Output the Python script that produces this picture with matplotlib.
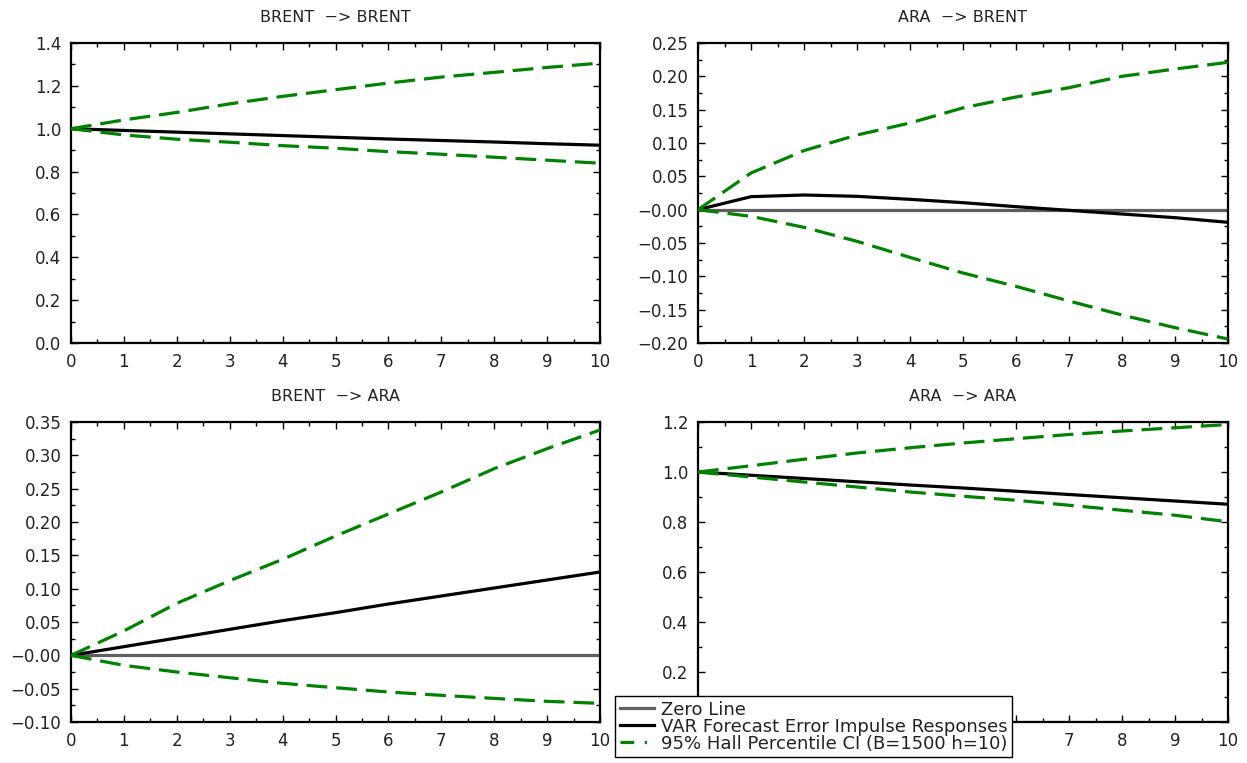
import numpy as np
import matplotlib
matplotlib.use('Agg')  # no display
import matplotlib.pyplot as plt
from matplotlib.lines import Line2D
from matplotlib.ticker import MultipleLocator, FuncFormatter

plt.rcParams['font.family'] = ['DejaVu Sans']

# horizon (periods after shock)
horizon = np.arange(11)

# BRENT -> BRENT
bb_irf = [1.0, 0.992, 0.984, 0.976, 0.968, 0.960, 0.952, 0.945, 0.938, 0.930, 0.923]
bb_upper = [1.0, 1.041, 1.076, 1.116, 1.151, 1.182, 1.213, 1.241, 1.263, 1.286, 1.306]
bb_lower = [1.0, 0.971, 0.951, 0.937, 0.921, 0.909, 0.893, 0.881, 0.867, 0.853, 0.839]

# ARA -> BRENT
ab_irf = [0.0, 0.0195, 0.022, 0.020, 0.0155, 0.0105, 0.0045, -0.001, -0.0065, -0.012, -0.019]
ab_upper = [0.0, 0.055, 0.0886, 0.112, 0.130, 0.1527, 0.169, 0.183, 0.200, 0.211, 0.221]
ab_lower = [0.0, -0.010, -0.0265, -0.0475, -0.0716, -0.095, -0.115, -0.137, -0.158, -0.177, -0.194]

# BRENT -> ARA
ba_irf = [0.0, 0.013, 0.026, 0.039, 0.052, 0.064, 0.077, 0.089, 0.101, 0.113, 0.125]
ba_upper = [0.0, 0.0366, 0.078, 0.112, 0.144, 0.179, 0.212, 0.245, 0.280, 0.310, 0.338]
ba_lower = [0.0, -0.015, -0.025, -0.0336, -0.042, -0.0486, -0.055, -0.060, -0.0646, -0.069, -0.072]

# ARA -> ARA
aa_irf = [1.0, 0.987, 0.974, 0.961, 0.948, 0.936, 0.923, 0.910, 0.897, 0.884, 0.871]
aa_upper = [1.0, 1.025, 1.051, 1.076, 1.097, 1.116, 1.133, 1.150, 1.164, 1.177, 1.190]
aa_lower = [1.0, 0.980, 0.960, 0.940, 0.920, 0.903, 0.887, 0.867, 0.847, 0.827, 0.801]

titles = ['BRENT  \u2212> BRENT', 'ARA  \u2212> BRENT', 'BRENT  \u2212> ARA', 'ARA  \u2212> ARA']
irfs = [bb_irf, ab_irf, ba_irf, aa_irf]
uppers = [bb_upper, ab_upper, ba_upper, aa_upper]
lowers = [bb_lower, ab_lower, ba_lower, aa_lower]
ylims = [(0.0, 1.4), (-0.20, 0.25), (-0.10, 0.35), (0.0, 1.2)]
ysteps = [0.2, 0.05, 0.05, 0.2]
ydecimals = [1, 2, 2, 1]
# tick labels covered by the legend in the last panel
hidden_x = [[], [], [], [0, 1, 2, 3, 4, 5, 6]]
hidden_y = [[], [], [], [0.0]]

legend_labels = ['Zero Line', 'VAR Forecast Error Impulse Responses',
                 '95% Hall Percentile CI (B=1500 h=10)']

W, H = 1247, 763
# axes boxes in pixels: left, top, right, bottom
boxes = [(71, 43, 600, 343), (698, 43, 1228, 343),
         (71, 422, 600, 722), (698, 422, 1228, 722)]

GREEN = '#008000'
GRAY = '#5f5f5f'
TXT = '#222222'


def y_fmt(d, hide):
    def f(v, pos):
        if any(abs(v - h) < 1e-9 for h in hide):
            return ''
        if d == 2 and abs(v) < 1e-9:
            return '\u22120.00'
        return f'{v:.{d}f}'.replace('-', '\u2212')
    return FuncFormatter(f)


def x_fmt(hide):
    def f(v, pos):
        if any(abs(v - h) < 1e-9 for h in hide):
            return ''
        return f'{v:.0f}'
    return FuncFormatter(f)


fig = plt.figure(figsize=(W / 100, H / 100), dpi=100)

for i in range(4):
    l, t, r, b = boxes[i]
    ax = fig.add_axes([l / W, 1 - b / H, (r - l) / W, (b - t) / H])
    ax.plot(horizon, np.zeros(len(horizon)), color=GRAY, lw=2.3, solid_capstyle='butt', zorder=2)
    ax.plot(horizon, irfs[i], color='black', lw=2.3, zorder=3)
    ax.plot(horizon, uppers[i], color=GREEN, lw=2.3, dashes=(6.5, 2.8), zorder=4)
    ax.plot(horizon, lowers[i], color=GREEN, lw=2.3, dashes=(6.5, 2.8), zorder=4)

    ax.set_xlim(0, 10)
    ax.set_ylim(*ylims[i])
    ax.xaxis.set_major_locator(MultipleLocator(1))
    ax.xaxis.set_minor_locator(MultipleLocator(0.5))
    ax.yaxis.set_major_locator(MultipleLocator(ysteps[i]))
    ax.yaxis.set_minor_locator(MultipleLocator(ysteps[i] / 2))
    ax.yaxis.set_major_formatter(y_fmt(ydecimals[i], hidden_y[i]))
    ax.xaxis.set_major_formatter(x_fmt(hidden_x[i]))

    ax.tick_params(which='both', direction='in', top=True, right=True, colors='black',
                   labelcolor=TXT, labelsize=12)
    ax.tick_params(which='major', length=5, width=1, pad=7)
    ax.tick_params(which='minor', length=3, width=1)
    for s in ax.spines.values():
        s.set_linewidth(1.6)
    ax.set_title(titles[i], fontsize=11.5, color=TXT, pad=15)

handles = [Line2D([], [], color=GRAY, lw=2.3),
           Line2D([], [], color='black', lw=2.3),
           Line2D([], [], color=GREEN, lw=2.3, dashes=(4.3, 3.3, 0.7, 3.3))]
leg = fig.legend(handles, legend_labels, loc='upper left',
                 bbox_to_anchor=(615 / W, 1 - 696 / H), fontsize=13,
                 frameon=True, fancybox=False, shadow=False, framealpha=1,
                 edgecolor='black', borderpad=0.25, labelspacing=-0.05,
                 handlelength=1.9, handletextpad=0.4, borderaxespad=0)
leg.get_frame().set_linewidth(1.0)
for txt in leg.get_texts():
    txt.set_color(TXT)

plt.savefig('out.png', dpi=100)
plt.close()
